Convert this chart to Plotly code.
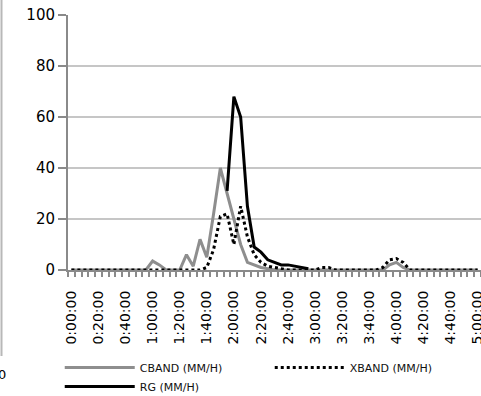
import plotly.graph_objects as go

times = [
    "0:00:00", "0:05:00", "0:10:00", "0:15:00", "0:20:00", "0:25:00", "0:30:00", "0:35:00",
    "0:40:00", "0:45:00", "0:50:00", "0:55:00", "1:00:00", "1:05:00", "1:10:00", "1:15:00",
    "1:20:00", "1:25:00", "1:30:00", "1:35:00", "1:40:00", "1:45:00", "1:50:00", "1:55:00",
    "2:00:00", "2:05:00", "2:10:00", "2:15:00", "2:20:00", "2:25:00", "2:30:00", "2:35:00",
    "2:40:00", "2:45:00", "2:50:00", "2:55:00", "3:00:00", "3:05:00", "3:10:00", "3:15:00",
    "3:20:00", "3:25:00", "3:30:00", "3:35:00", "3:40:00", "3:45:00", "3:50:00", "3:55:00",
    "4:00:00", "4:05:00", "4:10:00", "4:15:00", "4:20:00", "4:25:00", "4:30:00", "4:35:00",
    "4:40:00", "4:45:00", "4:50:00", "4:55:00", "5:00:00",
]

cband = [
    0, 0, 0, 0, 0, 0, 0, 0, 0, 0, 0, 0,
    3.5, 2, 0, 0, 0, 6, 1.5, 12, 5, 22, 40, 30,
    20, 10, 3, 2, 1, 0.5, 0, 0, 0, 0, 0, 0,
    0, 0, 0, 0, 0, 0, 0, 0, 0, 0, 0, 2,
    3, 1, 0, 0, 0, 0, 0, 0, 0, 0, 0, 0, 0,
]

xband = [
    0, 0, 0, 0, 0, 0, 0, 0, 0, 0, 0, 0,
    0, 0, 0, 0, 0, 0, 0, 0, 1, 8, 21, 22,
    10, 25, 13, 6, 3, 1.5, 1, 0.5, 0, 0, 0, 0,
    0, 1, 1, 0, 0, 0, 0, 0, 0, 0, 1, 4,
    4.5, 3, 0, 0, 0, 0, 0, 0, 0, 0, 0, 0, 0,
]

rg = [
    None, None, None, None, None, None, None, None, None, None, None, None,
    None, None, None, None, None, None, None, None, None, None, None, 31,
    68, 60, 25, 9, 7, 4, 3, 2, 2, 1.5, 1, 0.5,
    None, None, None, None, None, None, None, None, None, None, None, None,
    None, None, None, None, None, None, None, None, None, None, None, None, None,
]

series_names = ["CBAND (MM/H)", "XBAND (MM/H)", "RG (MM/H)"]
y_ticks = [0, 20, 40, 60, 80, 100]

idx = list(range(len(times)))
FONT = "DejaVu Sans"
AXIS = "#8a8a8a"

fig = go.Figure()
fig.add_trace(go.Scatter(x=idx, y=cband, name=series_names[0], mode="lines",
                         customdata=times, line=dict(color="#8e8e8e", width=3)))
fig.add_trace(go.Scatter(x=idx, y=xband, name=series_names[1], mode="lines",
                         customdata=times, line=dict(color="#000000", width=3, dash="dot")))
fig.add_trace(go.Scatter(x=idx, y=rg, name=series_names[2], mode="lines",
                         customdata=times, line=dict(color="#000000", width=3)))

fig.update_layout(
    width=481, height=396,
    margin=dict(l=68, r=0, t=15, b=126, autoexpand=False),
    paper_bgcolor="white", plot_bgcolor="white",
    font=dict(family=FONT, size=13, color="#000"),
    showlegend=True,
    legend=dict(orientation="h", x=-0.02, xanchor="left", y=(270 - 353) / 255, yanchor="top",
                font=dict(family=FONT, size=11, color="#111"),
                entrywidth=125, entrywidthmode="pixels", itemwidth=70,
                tracegroupgap=0, bgcolor="rgba(0,0,0,0)"),
    xaxis=dict(range=[-0.5, 60.5], tickmode="array", tickvals=idx[::4],
               ticktext=times[::4], tickangle=-90, ticks="",
               ticklabelstandoff=13, ticklabeloverflow="allow", automargin=False,
               tickfont=dict(family=FONT, size=14, color="#000"),
               showline=True, linecolor=AXIS, linewidth=2, showgrid=False, zeroline=False,
               minor=dict(ticks="outside", tickvals=[i - 0.5 for i in range(62)],
                          ticklen=5, tickwidth=1.5, tickcolor=AXIS, showgrid=False)),
    yaxis=dict(range=[0, 100], tickmode="array", tickvals=y_ticks,
               ticks="outside", ticklen=8, tickwidth=2, tickcolor=AXIS,
               ticksuffix="\u00a0\u00a0", automargin=False,
               tickfont=dict(family=FONT, size=15, color="#000"),
               showline=True, linecolor=AXIS, linewidth=2,
               showgrid=True, gridcolor="#c6c6c6", gridwidth=2, zeroline=False),
)

# fragment of the neighbouring chart visible at the left edge
fig.add_shape(type="line", xref="paper", yref="paper",
              x0=-66.5 / 413, x1=-66.5 / 413, y0=270 / 255, y1=(270 - 356) / 255,
              line=dict(color="#b8b8b8", width=2))
fig.add_annotation(text="0", xref="paper", yref="paper", x=-60 / 413, y=(270 - 375) / 255,
                   xanchor="right", yanchor="middle", showarrow=False,
                   font=dict(family=FONT, size=13, color="#000"))

fig.write_html("out.html")
